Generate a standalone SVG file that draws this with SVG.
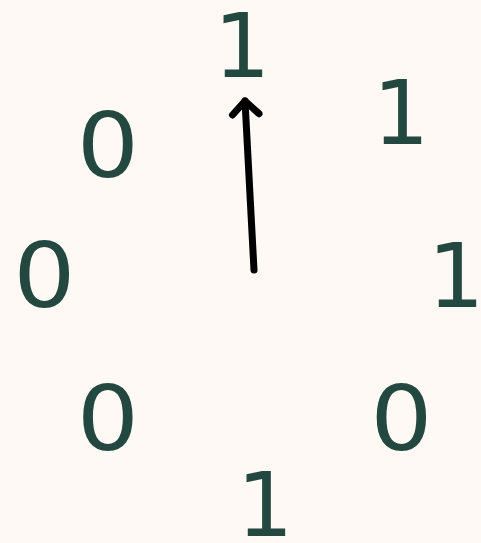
<svg xmlns="http://www.w3.org/2000/svg" width="481" height="543" viewBox="0 0 481 543">
<style>
.d{font-family:"DejaVu Sans",sans-serif;font-size:89px;fill:#23483f;text-anchor:middle}
.a{fill:none;stroke:#000;stroke-width:7;stroke-linecap:round;stroke-linejoin:round}
</style>
<rect width="481" height="543" fill="#fef9f4"/>
<g id="n0"><text class="d" x="242" y="77">1</text></g>
<g id="n1"><text class="d" x="401" y="144">1</text></g>
<g id="n2"><text class="d" x="456" y="307">1</text></g>
<g id="n3"><text class="d" transform="translate(401.5,450) scale(1.1,1)">0</text></g>
<g id="n4"><text class="d" x="265" y="536">1</text></g>
<g id="n5"><text class="d" transform="translate(108,450) scale(1.1,1)">0</text></g>
<g id="n6"><text class="d" transform="translate(44.5,307) scale(1.1,1)">0</text></g>
<g id="n7"><text class="d" transform="translate(108,177) scale(1.1,1)">0</text></g>
<g id="connectors">
<path class="a" d="M254,270 L245,101"/>
<polyline class="a" points="232.5,115 245,101 259,113.7"/>
</g>
</svg>
